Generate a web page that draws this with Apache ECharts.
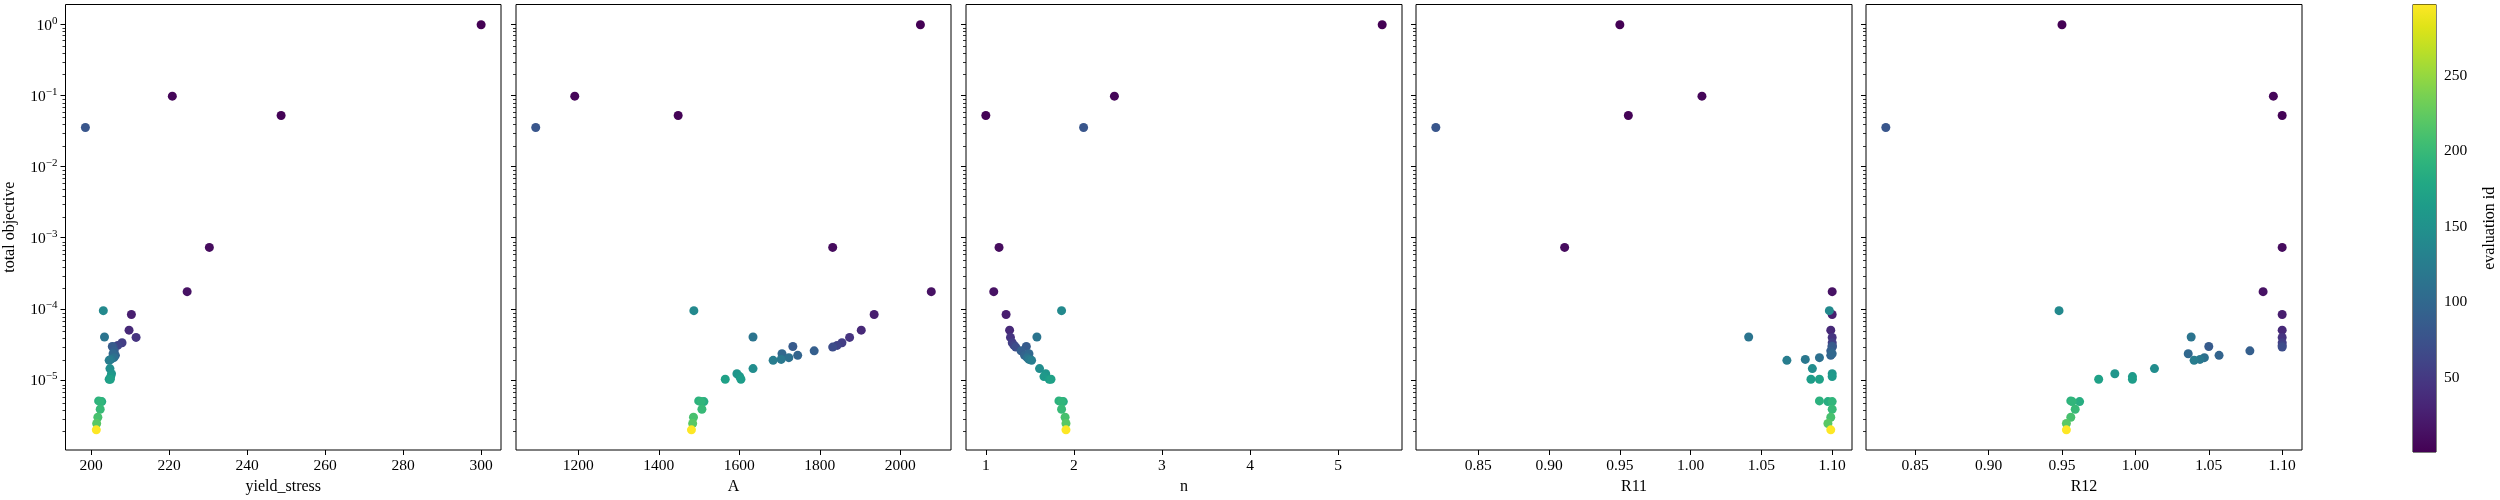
<!DOCTYPE html>
<html>
<head>
<meta charset="utf-8">
<script src="https://cdn.jsdelivr.net/npm/echarts@6/dist/echarts.min.js"></script>
<style>
  html, body { margin: 0; padding: 0; background: #fff; }
  #main { width: 2500px; height: 500px; }
</style>
</head>
<body>
<div id="main"></div>
<script>
var myChart = echarts.init(document.getElementById("main"));

// one entry per evaluation, ordered by evaluation id
const evalId = [1, 3, 5, 10, 15, 25, 35, 45, 55, 60, 70, 80, 85, 90, 95, 100, 110, 115, 120, 125,
  140, 145, 155, 160, 165, 170, 185, 190, 195, 200, 210, 220, 297];
const totalObjective = [0.99, 0.0524, 0.098, 7.3e-4, 1.74e-4, 8.3e-5, 5.0e-5, 3.95e-5, 3.32e-5, 3.05e-5,
  2.89e-5, 0.0355, 2.95e-5, 2.56e-5, 2.21e-5, 2.33e-5, 2.05e-5, 4.0e-5, 1.94e-5, 1.88e-5,
  9.4e-5, 1.44e-5, 1.22e-5, 1.11e-5, 1.02e-5, 1.02e-5, 4.94e-6, 5.05e-6, 4.94e-6, 3.86e-6,
  2.98e-6, 2.43e-6, 1.98e-6];
const yieldStress = [300.0, 248.7, 220.8, 230.3, 224.6, 210.3, 209.7, 211.5, 207.9, 206.8,
  205.8, 198.5, 205.4, 205.9, 206.2, 205.6, 205.8, 203.4, 205.0, 204.6,
  203.1, 204.8, 205.2, 205.0, 204.6, 204.9, 202.7, 201.9, 202.3, 202.3,
  201.7, 201.4, 201.3];
const paramA = [2050, 1448, 1191, 1832, 2077, 1935, 1903, 1874, 1855, 1843,
  1832, 1094, 1733, 1786, 1745, 1706, 1723, 1634, 1704, 1684,
  1487, 1634, 1594, 1601, 1604, 1565, 1512, 1499, 1505, 1507,
  1486, 1484, 1481];
const paramN = [5.50, 1.00, 2.46, 1.15, 1.09, 1.23, 1.27, 1.28, 1.30, 1.32,
  1.34, 2.11, 1.46, 1.40, 1.44, 1.49, 1.47, 1.58, 1.49, 1.52,
  1.86, 1.61, 1.68, 1.66, 1.72, 1.74, 1.88, 1.83, 1.86, 1.86,
  1.90, 1.91, 1.91];
const paramR11 = [0.950, 0.956, 1.008, 0.911, 1.100, 1.100, 1.099, 1.100, 1.100, 1.100,
  1.100, 0.820, 1.100, 1.099, 1.099, 1.100, 1.091, 1.041, 1.081, 1.068,
  1.098, 1.086, 1.100, 1.100, 1.085, 1.091, 1.097, 1.091, 1.100, 1.100,
  1.099, 1.097, 1.099];
const paramR12 = [0.950, 1.100, 1.094, 1.100, 1.087, 1.100, 1.100, 1.100, 1.100, 1.100,
  1.100, 0.830, 1.050, 1.078, 1.057, 1.036, 1.047, 1.038, 1.044, 1.040,
  0.948, 1.013, 0.986, 0.998, 0.998, 0.975, 0.962, 0.956, 0.957, 0.959,
  0.956, 0.953, 0.953];

// tick labels
const ticksYield = [200, 220, 240, 260, 280, 300];
const ticksA = [1200, 1400, 1600, 1800, 2000];
const ticksN = [1, 2, 3, 4, 5];
const ticksR = [0.85, 0.90, 0.95, 1.00, 1.05, 1.10];
const ticksY = [1e-5, 1e-4, 1e-3, 1e-2, 1e-1, 1];
const ticksColorbar = [50, 100, 150, 200, 250];

const viridis = ["#440154", "#471365", "#482475", "#463480", "#414487", "#3b528b", "#355f8d",
  "#2f6c8e", "#2a788e", "#25848e", "#21918c", "#1e9c89", "#22a884", "#2fb47c", "#44bf70",
  "#5ec962", "#7ad151", "#9bd93c", "#bddf26", "#dfe318", "#fde725"];

const idMin = 1, idMax = 297;
const yMin = 1.03e-6, yMax = 1.91;

// minor ticks 2..9 x 10^k
const minorY = [];
for (let e = -6; e <= 0; e++) {
  for (let m = 2; m <= 9; m++) {
    const v = m * Math.pow(10, e);
    if (v > yMin && v < yMax) minorY.push(v);
  }
}

const panels = [
  { name: "yield_stress", values: yieldStress, min: 193.4, max: 305.1, ticks: ticksYield, dec: 0 },
  { name: "A", values: paramA, min: 1045, max: 2126, ticks: ticksA, dec: 0 },
  { name: "n", values: paramN, min: 0.775, max: 5.725, ticks: ticksN, dec: 0 },
  { name: "R11", values: paramR11, min: 0.806, max: 1.114, ticks: ticksR, dec: 2 },
  { name: "R12", values: paramR12, min: 0.8165, max: 1.1135, ticks: ticksR, dec: 2 },
];
const lefts = [65.5, 516, 966, 1416, 1866];
const widths = [435.5, 435, 436, 436, 436];
const gridTop = 4.5, gridHeight = 447.5;

const font = "Liberation Serif";
const labelSize = 15.5, nameSize = 16;

const grid = [], xAxis = [], yAxis = [], series = [];

// main panels: grid i, xAxis i, yAxis i
panels.forEach((p, i) => {
  grid.push({ left: lefts[i], top: gridTop, width: widths[i], height: gridHeight,
    show: true, borderColor: "#000", borderWidth: 1, backgroundColor: "transparent" });
  xAxis.push({
    gridIndex: i, type: "value", min: p.min, max: p.max,
    name: p.name, nameLocation: "middle", nameGap: 29,
    nameTextStyle: { fontFamily: font, color: "#000", fontSize: nameSize },
    axisLine: { show: false },
    axisTick: { show: true, length: 5, customValues: p.ticks, lineStyle: { color: "#000", width: 1 } },
    axisLabel: { customValues: p.ticks, margin: 8, fontFamily: font, color: "#000", fontSize: labelSize,
      formatter: (v) => v.toFixed(p.dec) },
    splitLine: { show: false },
  });
  yAxis.push({
    gridIndex: i, type: "log", min: yMin, max: yMax, position: "left",
    name: i === 0 ? "total objective" : "", nameLocation: "middle", nameGap: 48,
    nameTextStyle: { fontFamily: font, color: "#000", fontSize: nameSize },
    axisLine: { show: false },
    axisTick: { show: true, length: 5, customValues: ticksY, lineStyle: { color: "#000", width: 1 } },
    axisLabel: {
      show: i === 0, customValues: ticksY, margin: 8,
      formatter: (v) => {
        const e = Math.round(Math.log10(v));
        return "{b|10}{s|" + (e < 0 ? "\u2212" + (-e) : e) + "}";
      },
      rich: {
        b: { fontFamily: font, color: "#000", fontSize: labelSize, verticalAlign: "bottom" },
        s: { fontFamily: font, color: "#000", fontSize: 11, verticalAlign: "bottom", padding: [0, 0, 7, 0] },
      },
    },
    splitLine: { show: false },
  });
  series.push({
    type: "scatter",
    xAxisIndex: i,
    yAxisIndex: i,
    symbolSize: 9,
    itemStyle: { opacity: 1 },
    data: evalId.map((id, k) => [p.values[k], totalObjective[k], id]),
  });
});

// colorbar: grid 5
grid.push({ left: 2413, top: gridTop, width: 23, height: gridHeight,
  show: true, borderColor: "#000", borderWidth: 1, backgroundColor: "transparent" });
xAxis.push({ gridIndex: 5, type: "value", min: 0, max: 1, show: false });
yAxis.push({
  gridIndex: 5, type: "value", min: idMin, max: idMax, position: "right",
  name: "evaluation id", nameLocation: "middle", nameGap: 46, nameRotate: 90,
  nameTextStyle: { fontFamily: font, color: "#000", fontSize: nameSize },
  axisLine: { show: false },
  axisTick: { show: true, length: 5, customValues: ticksColorbar, lineStyle: { color: "#000", width: 1 } },
  axisLabel: { customValues: ticksColorbar, margin: 8, fontFamily: font, color: "#000", fontSize: labelSize },
  splitLine: { show: false },
});
series.push({
  type: "custom",
  xAxisIndex: 5,
  yAxisIndex: 5,
  silent: true,
  z: 1,
  data: [[0, idMin, 1, idMax]],
  renderItem: (params, api) => {
    const p0 = api.coord([api.value(0), api.value(3)]);
    const p1 = api.coord([api.value(2), api.value(1)]);
    const stops = viridis.map((c, k) => ({ offset: k / (viridis.length - 1), color: c }));
    return {
      type: "rect",
      shape: { x: p0[0], y: p0[1], width: p1[0] - p0[0], height: p1[1] - p0[1] },
      style: { fill: new echarts.graphic.LinearGradient(0, 1, 0, 0, stops) },
    };
  },
});

// minor log ticks: overlay grids 6..10 on the same rectangles
panels.forEach((p, i) => {
  const g = 6 + i;
  grid.push({ left: lefts[i], top: gridTop, width: widths[i], height: gridHeight, show: false });
  xAxis.push({ gridIndex: g, type: "value", min: p.min, max: p.max, show: false });
  yAxis.push({
    gridIndex: g, type: "log", min: yMin, max: yMax, position: "left",
    axisLine: { show: false },
    axisTick: { show: true, length: 3, customValues: minorY, lineStyle: { color: "#000", width: 0.8 } },
    axisLabel: { show: false },
    splitLine: { show: false },
  });
});

option = {
  animation: false,
  backgroundColor: "#fff",
  textStyle: { fontFamily: font, color: "#000", fontSize: labelSize },
  grid: grid,
  xAxis: xAxis,
  yAxis: yAxis,
  visualMap: {
    show: false,
    type: "continuous",
    min: idMin,
    max: idMax,
    dimension: 2,
    seriesIndex: [0, 1, 2, 3, 4],
    inRange: { color: viridis },
  },
  series: series,
};
myChart.setOption(option);
</script>
</body>
</html>
